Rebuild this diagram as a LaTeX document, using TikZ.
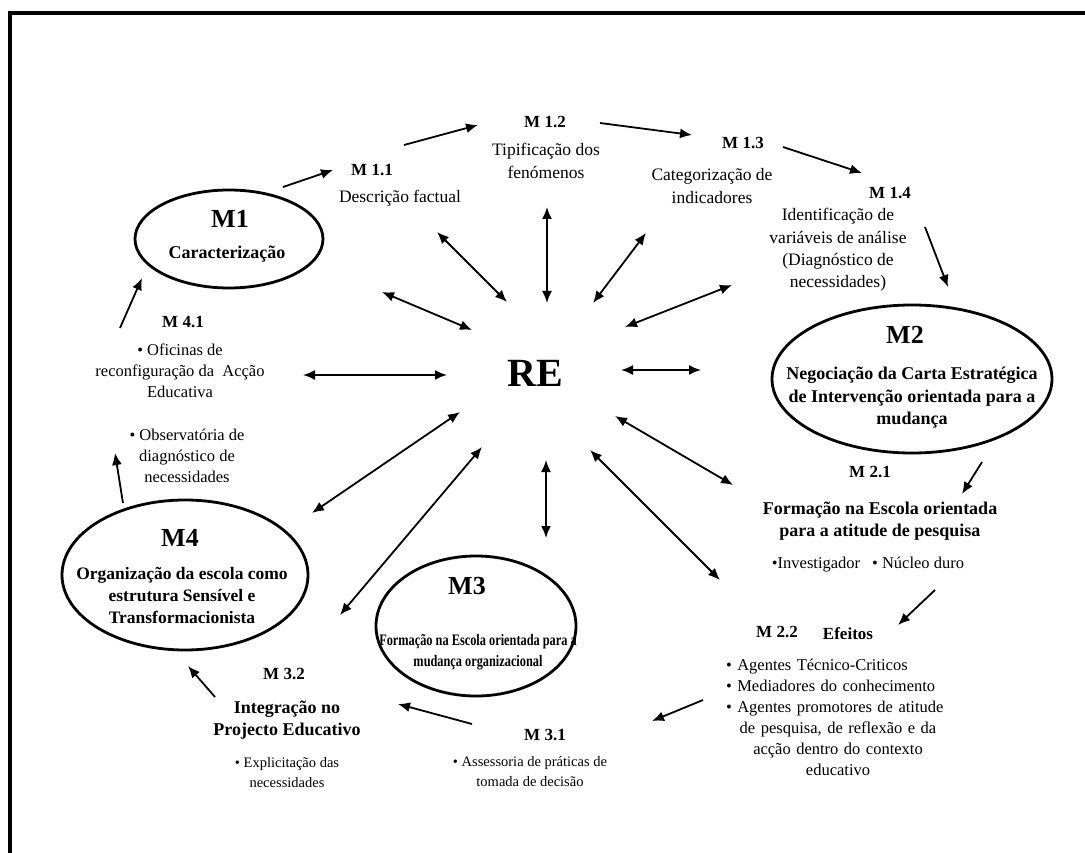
\documentclass[tikz,border=0pt]{standalone}
\usepackage{fontspec}
\setmainfont{Liberation Serif}
\usetikzlibrary{shapes.geometric,arrows.meta}
\begin{document}
\begin{tikzpicture}[x=1pt,y=-1pt,
  hd/.style={font=\fontsize{17}{20}\selectfont\bfseries, inner sep=0pt},
  ds/.style={font=\fontsize{17.5}{22.3}\selectfont, align=center, inner sep=0pt},
  bd/.style={font=\fontsize{18}{22.5}\selectfont\bfseries, align=center, inner sep=0pt},
  sm/.style={font=\fontsize{16.5}{21}\selectfont, align=center, inner sep=0pt},
  xs/.style={font=\fontsize{14.5}{20}\selectfont, align=center, inner sep=0pt},
  big/.style={font=\fontsize{26}{28}\selectfont\bfseries, inner sep=0pt},
  ell/.style={draw, ellipse, line width=2.8pt, inner sep=0pt},
  flow/.style={-{Latex[length=12pt,width=10pt]}, line width=1.8pt},
  both/.style={{Latex[length=12pt,width=10pt]}-{Latex[length=12pt,width=10pt]}, line width=1.8pt},
]
\useasboundingbox (0,0) rectangle (1085,853);
\fill[white] (0,0) rectangle (1085,853);
\draw[line width=4pt] (10,853) -- (10,13) -- (1085,13);

% ellipses
\node[ell, minimum width=188pt, minimum height=98pt] (M1) at (229,239) {};
\node[ell, minimum width=280pt, minimum height=148pt] (M2) at (912,379) {};
\node[ell, minimum width=200pt, minimum height=140pt] (M3) at (476,626) {};
\node[ell, minimum width=246pt, minimum height=150pt] (M4) at (185,575) {};

\node[big] (M1a) at (230,219) {M1};
\node[bd] (M1b) at (227,254) {Caracterização};
\node[big] (M2a) at (905,335) {M2};
\node[bd] (M2b) at (912,398) {Negociação da Carta Estratégica\\de Intervenção orientada para a\\mudança};
\node[big] (M3a) at (467,586) {M3};
\node[inner sep=0pt, align=center, font=\fontsize{16}{21}\selectfont\bfseries] (M3b) at (478,652) {\scalebox{0.77}[1]{Formação na Escola orientada para a}\\\scalebox{0.77}[1]{mudança organizacional}};
\node[big] (M4a) at (180,538) {M4};
\node[bd, font=\fontsize{17.5}{22}\selectfont\bfseries] (M4b) at (182,595) {Organização da escola como\\estrutura Sensível e\\Transformacionista};

\node[font=\fontsize{40}{44}\selectfont\bfseries, inner sep=0pt] (RE) at (535,373) {RE};

% labels
\node[hd] (m11h) at (372,170) {M 1.1};
\node[ds] (m11) at (400,198) {Descrição factual};
\node[hd] (m12h) at (545,122) {M 1.2};
\node[ds] (m12) at (546,161) {Tipificação dos\\fenómenos};
\node[hd] (m13h) at (743,143) {M 1.3};
\node[ds] (m13) at (712,186) {Categorização de\\indicadores};
\node[hd] (m14h) at (890,193) {M 1.4};
\node[ds] (m14) at (838,250) {Identificação de\\variáveis de análise\\(Diagnóstico de\\necessidades)};
\node[hd] (m41h) at (183,322) {M 4.1};
\node[sm] (m41) at (180,371) {• Oficinas de\\reconfiguração da\ \ Acção\\Educativa};
\node[sm] (obs) at (187,456) {• Observatória de\\diagnóstico de\\necessidades};
\node[hd] (m21h) at (870,472) {M 2.1};
\node[bd] (m21) at (880,521) {Formação na Escola orientada\\para a atitude de pesquisa};
\node[sm] (m21b) at (868,565) {•Investigador\hspace{12pt}• Núcleo duro};
\node[hd] (m22h) at (777,632) {M 2.2};
\node[hd] (eff) at (848,634) {Efeitos};
\node[sm, text width=224pt] (m22) at (838,717) {\makebox[224pt][l]{• Agentes Técnico-Criticos}\\\makebox[224pt][l]{• Mediadores do conhecimento}\\\makebox[224pt][l]{• Agentes promotores de atitude}\\de pesquisa, de reflexão e da\\acção dentro do contexto\\educativo};
\node[hd] (m31h) at (545,735) {M 3.1};
\node[xs] (m31) at (530,772) {• Assessoria de práticas de\\tomada de decisão};
\node[hd] (m32h) at (284,674) {M 3.2};
\node[bd] (m32) at (287,720) {Integração no\\Projecto Educativo};
\node[xs] (m32b) at (287,773) {• Explicitação das\\necessidades};

% arrow end points
\coordinate (f1s) at (283,187); \coordinate (f1e) at (333,170);
\coordinate (f2s) at (404,145); \coordinate (f2e) at (478,125);
\coordinate (f3s) at (600,123); \coordinate (f3e) at (692,135);
\coordinate (f4s) at (783,147); \coordinate (f4e) at (862,173);
\coordinate (f5s) at (925,227); \coordinate (f5e) at (948,287);
\coordinate (f6s) at (982,462); \coordinate (f6e) at (962,494);
\coordinate (f7s) at (935,590); \coordinate (f7e) at (898,625);
\coordinate (f8s) at (703,700); \coordinate (f8e) at (652,721);
\coordinate (f9s) at (472,724); \coordinate (f9e) at (398,704);
\coordinate (f10s) at (215,697); \coordinate (f10e) at (188,666);
\coordinate (f11s) at (123,503); \coordinate (f11e) at (115,453);
\coordinate (f12s) at (120,328); \coordinate (f12e) at (142,278);

\coordinate (ra) at (472,330); \coordinate (rae) at (382,292);
\coordinate (rb) at (507,302); \coordinate (rbe) at (437,232);
\coordinate (rc) at (547,303); \coordinate (rce) at (547,207);
\coordinate (rd) at (593,303); \coordinate (rde) at (646,233);
\coordinate (re) at (625,327); \coordinate (ree) at (732,285);
\coordinate (rf) at (621,370); \coordinate (rfe) at (701,370);
\coordinate (rg) at (615,416); \coordinate (rge) at (733,485);
\coordinate (rh) at (590,450); \coordinate (rhe) at (720,580);
\coordinate (ri) at (546,460); \coordinate (rie) at (546,538);
\coordinate (rj) at (482,447); \coordinate (rje) at (340,615);
\coordinate (rk) at (460,412); \coordinate (rke) at (312,513);
\coordinate (rl) at (447,375); \coordinate (rle) at (303,375);

\foreach \n in {1,...,12} \draw[flow] (f\n s) -- (f\n e);
\foreach \n in {a,b,c,d,e,f,g,h,i,j,k,l} \draw[both] (r\n) -- (r\n e);
\end{tikzpicture}
\end{document}
